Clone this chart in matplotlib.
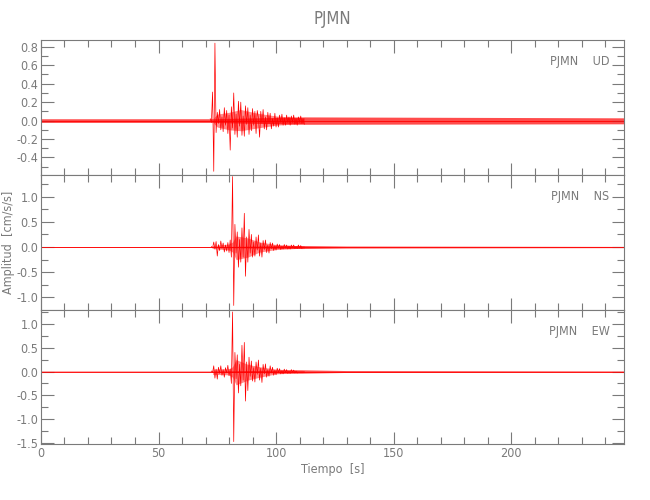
import numpy as np
import matplotlib
matplotlib.use('Agg')
import matplotlib.pyplot as plt
from matplotlib.ticker import MultipleLocator

plt.rcParams['font.family'] = ['DejaVu Sans Condensed', 'Liberation Sans Narrow', 'DejaVu Sans']
plt.rcParams['font.stretch'] = 'condensed'

# --- data ---
station = 'PJMN'
components = ['UD', 'NS', 'EW']

# active part of each trace, sampled every 0.5 s from t0
t0_ud = 72.0
amp_ud = [0.02, -0.02, 0.31, -0.55, 0.84, -0.13, 0.09, -0.03, 0.12, -0.10,
          0.04, -0.12, 0.14, -0.05, 0.11, -0.14, 0.06, -0.32, 0.15, -0.08,
          0.30, -0.15, 0.07, -0.18, 0.21, -0.06, 0.20, -0.16, 0.05, -0.17,
          0.16, -0.04, 0.14, -0.15, 0.06, -0.11, 0.13, -0.05, 0.10, -0.14,
          0.11, 0.03, -0.18, 0.10, -0.03, 0.12, -0.09, 0.04, -0.10, 0.09,
          -0.03, 0.08, -0.09, 0.02, -0.06, 0.08, -0.07, 0.03, -0.07, 0.06,
          -0.02, 0.07, -0.05, 0.03, -0.05, 0.06, -0.02, 0.04, -0.05, 0.05,
          -0.02, 0.06, -0.04, 0.02, -0.05, 0.04, -0.02, 0.05, -0.03, 0.02, -0.04]

t0_ns = 72.5
amp_ns = [0.01, -0.02, 0.10, -0.04, 0.11, -0.18, 0.05, -0.07, 0.12, -0.03,
          0.08, -0.10, 0.04, -0.08, 0.09, -0.11, 0.14, -0.20, 1.40, -1.16,
          0.45, -0.12, 0.30, -0.40, 0.15, -0.30, 0.38, -0.20, 0.67, -0.58,
          0.20, -0.30, 0.35, -0.12, 0.25, -0.20, 0.10, -0.18, 0.20, -0.06,
          0.24, -0.18, 0.08, -0.20, 0.13, -0.05, 0.14, -0.11, 0.04, -0.12,
          0.09, -0.03, 0.08, -0.07, 0.03, -0.06, 0.06, -0.02, 0.05, -0.05,
          0.02, -0.04, 0.05, -0.02, 0.04, -0.04, 0.02, -0.04, 0.04, -0.01,
          0.04, -0.03, 0.01, -0.03, 0.04, -0.02, 0.03, -0.03]

t0_ew = 72.5
amp_ew = [0.01, -0.02, 0.12, -0.14, 0.05, -0.16, 0.09, -0.04, 0.12, -0.08,
          0.04, -0.12, 0.08, -0.03, 0.13, -0.09, 0.05, -0.25, 1.25, -1.47,
          0.40, -0.15, 0.35, -0.45, 0.15, -0.30, 0.55, -0.18, 0.61, -0.62,
          0.20, -0.40, 0.30, -0.10, 0.22, -0.20, 0.08, -0.22, 0.20, -0.06,
          0.24, -0.18, 0.07, -0.23, 0.15, -0.05, 0.16, -0.12, 0.04, -0.10,
          0.12, -0.03, 0.09, -0.08, 0.03, -0.07, 0.07, -0.02, 0.06, -0.05,
          0.02, -0.05, 0.05, -0.02, 0.04, -0.04, 0.01, -0.04, 0.04, -0.02,
          0.03, -0.03, 0.01, -0.03]

# background noise band (knots)
band_t_ud = [0, 72.5, 112, 248]
band_hi_ud = [0.02, 0.02, 0.04, 0.03]
band_lo_ud = [-0.02, -0.02, -0.04, -0.035]

band_t_ns = [0, 72.5, 111, 130, 248]
band_hi_ns = [0.008, 0.008, 0.03, 0.02, 0.012]
band_lo_ns = [-0.008, -0.008, -0.03, -0.02, -0.012]

band_t_ew = [0, 72.5, 111, 130, 248]
band_hi_ew = [0.01, 0.01, 0.035, 0.02, 0.012]
band_lo_ew = [-0.01, -0.01, -0.035, -0.02, -0.012]

# dense core of the shaking (knots)
core_t_ud = [73.5, 75, 80, 85, 92, 100, 112]
core_hi_ud = [0.03, 0.07, 0.09, 0.12, 0.08, 0.05, 0.03]
core_lo_ud = [-0.03, -0.07, -0.10, -0.11, -0.08, -0.05, -0.03]

core_t_ns = [73, 80, 81.5, 83, 88, 93, 100, 112]
core_hi_ns = [0.03, 0.06, 0.10, 0.22, 0.18, 0.10, 0.05, 0.02]
core_lo_ns = [-0.03, -0.06, -0.10, -0.25, -0.20, -0.10, -0.05, -0.02]

core_t_ew = [73, 80, 81.5, 83, 88, 93, 100, 112]
core_hi_ew = [0.05, 0.06, 0.10, 0.25, 0.15, 0.10, 0.05, 0.02]
core_lo_ew = [-0.06, -0.07, -0.12, -0.28, -0.18, -0.12, -0.05, -0.02]

ylims = [(-0.59, 0.874), (-1.24, 1.43), (-1.52, 1.30)]
ymajor = [0.2, 0.5, 0.5]
yminor = [0.1, 0.25, 0.25]

traces = [(t0_ud, amp_ud, band_t_ud, band_hi_ud, band_lo_ud, core_t_ud, core_hi_ud, core_lo_ud),
          (t0_ns, amp_ns, band_t_ns, band_hi_ns, band_lo_ns, core_t_ns, core_hi_ns, core_lo_ns),
          (t0_ew, amp_ew, band_t_ew, band_hi_ew, band_lo_ew, core_t_ew, core_hi_ew, core_lo_ew)]

grey = '#7a7a7a'
fig = plt.figure(figsize=(6.5, 5), dpi=100)

# panel edges in figure fraction
tops = [0.92, 0.65, 0.381]
bots = [0.65, 0.381, 0.112]

for i, (t0, amp, bt, bhi, blo, ct, chi, clo) in enumerate(traces):
    ax = fig.add_axes([0.063, bots[i], 0.897, tops[i] - bots[i]])
    t = t0 + 0.5 * np.arange(len(amp))
    ax.fill_between(bt, blo, bhi, color='red', lw=0, alpha=0.7)
    ax.fill_between(ct, clo, chi, color='red', lw=0, alpha=0.45)
    ax.plot(bt, [0] * len(bt), color='red', lw=0.6)
    ax.plot(t, amp, color='red', lw=0.5)
    ax.set_xlim(0, 248)
    ax.set_ylim(*ylims[i])
    ax.xaxis.set_major_locator(MultipleLocator(50))
    ax.xaxis.set_minor_locator(MultipleLocator(10))
    ax.yaxis.set_major_locator(MultipleLocator(ymajor[i]))
    ax.yaxis.set_minor_locator(MultipleLocator(yminor[i]))
    ax.tick_params(which='both', direction='in', top=True, right=True,
                   color=grey, labelcolor=grey, labelsize=9, width=0.8, pad=2)
    ax.tick_params(which='major', length=9)
    ax.tick_params(which='minor', length=5)
    ax.yaxis.set_major_formatter(plt.FuncFormatter(lambda v, p: '%.1f' % v))
    for s in ax.spines.values():
        s.set_color(grey)
        s.set_linewidth(0.8)
    if i < 2:
        ax.set_xticklabels([])
    else:
        ax.set_xlabel('Tiempo  [s]', color=grey, fontsize=9, labelpad=2)
    if i == 1:
        ax.set_ylabel('Amplitud  [cm/s/s]', color=grey, fontsize=9, labelpad=1)
    ax.text(0.975, 0.84, station + '    ' + components[i], transform=ax.transAxes,
            ha='right', va='center', color=grey, fontsize=9)

fig.text(0.512, 0.962, station, ha='center', va='center', color=grey, fontsize=12)

fig.savefig('out.png', dpi=100)
